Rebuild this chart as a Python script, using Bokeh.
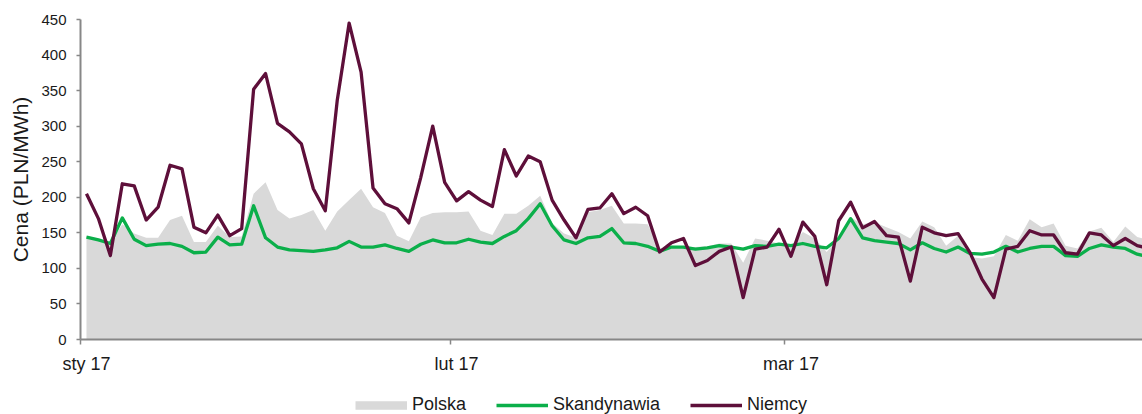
import pandas as pd
from bokeh.plotting import figure
from bokeh.models import Range1d, FixedTicker, Legend, LegendItem
from bokeh.embed import file_html
from bokeh.resources import INLINE

# ---------------- data ----------------
dates = pd.date_range("2017-01-01", "2017-03-31", freq="D")

polska = [146, 141, 135, 162, 149, 143, 143, 168, 174, 137,
          137, 160, 144, 145, 205, 221, 182, 170, 175, 182,
          153, 180, 196, 212, 186, 178, 146, 138, 172, 178,
          179, 179, 180, 153, 147, 177, 177, 188, 202, 164,
          149, 143, 179, 182, 188, 163, 163, 162, 128, 132,
          129, 130, 131, 135, 135, 108, 142, 139, 135, 132,
          151, 142, 123, 144, 172, 162, 165, 158, 151, 142,
          166, 158, 132, 146, 116, 114, 117, 147, 139, 169,
          158, 163, 132, 128, 152, 157, 137, 159, 144, 140]

skandynawia = [144, 140, 135, 171, 141, 132, 134, 135, 131, 122,
               123, 144, 133, 134, 188, 143, 130, 126, 125, 124,
               126, 129, 138, 130, 130, 133, 128, 124, 134, 140,
               136, 136, 141, 137, 135, 145, 153, 170, 191, 160,
               140, 135, 143, 145, 156, 136, 135, 131, 124, 130,
               130, 127, 129, 132, 130, 127, 132, 131, 134, 132,
               135, 131, 129, 142, 170, 143, 139, 137, 135, 126,
               136, 128, 123, 130, 121, 120, 123, 131, 123, 128,
               131, 131, 118, 117, 128, 133, 130, 128, 120, 116]

niemcy = [205, 170, 118, 219, 216, 168, 186, 245, 240, 158,
          150, 175, 146, 156, 352, 374, 304, 292, 275, 212,
          181, 336, 445, 376, 213, 191, 184, 164, 228, 300,
          221, 195, 208, 196, 187, 267, 230, 258, 250, 196,
          168, 143, 183, 185, 205, 177, 186, 174, 123, 136,
          142, 104, 111, 124, 130, 59, 127, 130, 155, 117,
          165, 145, 77, 167, 193, 157, 166, 146, 144, 82,
          158, 150, 146, 149, 122, 85, 59, 127, 131, 153,
          147, 147, 122, 120, 150, 147, 132, 142, 132, 128]

month_labels = ["sty 17", "lut 17", "mar 17"]
y_ticks = [0, 50, 100, 150, 200, 250, 300, 350, 400, 450]
series_names = ["Polska", "Skandynawia", "Niemcy"]

# ---------------- derived ----------------
day = [(d - dates[0]).days for d in dates]
month_start_idx = [i for i, d in enumerate(dates) if d.day == 1]

FONT = "Liberation Sans"
AXIS_GRAY = "#878787"
TEXT = "#1a1a1a"
GRAY_FILL = "#D9D9D9"
GREEN = "#0BAF4A"
MAROON = "#5E0F3A"

# page geometry (pixels): the frame covers the whole figure, axes are pinned
W, H = 1142, 414
AXIS_X = 80          # pixel column of the y axis (start of 1 Jan)
TOP_Y = 19           # pixel row of value 450
ZERO_Y = 339         # pixel row of value 0
px_per_day = 11.94
px_per_unit = (ZERO_Y - TOP_Y) / 450.0

x_start = -0.5 - AXIS_X / px_per_day
x_end = -0.5 + (W - AXIS_X) / px_per_day
y_start = -(H - ZERO_Y) / px_per_unit
y_end = 450 + TOP_Y / px_per_unit

p = figure(width=W, height=H, output_backend="svg", toolbar_location=None,
           x_range=Range1d(x_start, x_end), y_range=Range1d(y_start, y_end),
           min_border=0, min_border_left=0, min_border_right=0,
           min_border_top=0, min_border_bottom=0)
p.title.visible = False
p.grid.visible = False
p.outline_line_color = None
p.background_fill_color = "white"
p.border_fill_color = "white"

# area + lines
p.varea(x=day, y1=0, y2=polska, fill_color=GRAY_FILL)
r_sk = p.line(day, skandynawia, line_color=GREEN, line_width=3.3, line_join="round")
r_ni = p.line(day, niemcy, line_color=MAROON, line_width=3.3, line_join="round")
proxy = p.line(day, polska, line_color=GRAY_FILL, line_width=8.5, visible=False)

# x axis (pinned at value 0)
xa = p.xaxis[0]
xa.fixed_location = 0
xa.bounds = (-0.5, x_end)
xa.ticker = FixedTicker(ticks=month_start_idx,
                        minor_ticks=[i - 0.5 for i in month_start_idx])
xa.major_label_overrides = {i: lab for i, lab in zip(month_start_idx, month_labels)}
xa.major_tick_line_color = None
xa.major_tick_out = 0
xa.major_tick_in = 0
xa.minor_tick_out = 5
xa.minor_tick_in = 0
xa.minor_tick_line_color = AXIS_GRAY
xa.minor_tick_line_width = 1.5
xa.axis_line_color = AXIS_GRAY
xa.axis_line_width = 2
xa.major_label_standoff = 9
xa.major_label_text_font = FONT
xa.major_label_text_font_size = "18px"
xa.major_label_text_color = TEXT

# y axis (pinned at the start of 1 Jan)
ya = p.yaxis[0]
ya.fixed_location = -0.5
ya.bounds = (0, 450)
ya.ticker = FixedTicker(ticks=y_ticks)
ya.major_tick_out = 4
ya.major_tick_in = 0
ya.major_tick_line_color = AXIS_GRAY
ya.major_tick_line_width = 1.5
ya.minor_tick_line_color = None
ya.axis_line_color = AXIS_GRAY
ya.axis_line_width = 2
ya.major_label_standoff = 10
ya.major_label_text_font = FONT
ya.major_label_text_font_size = "15px"
ya.major_label_text_color = TEXT
ya.axis_label = "Cena (PLN/MWh)"
ya.axis_label_text_font = FONT
ya.axis_label_text_font_size = "21px"
ya.axis_label_text_font_style = "normal"
ya.axis_label_text_color = TEXT
ya.axis_label_standoff = 6

legend = Legend(
    items=[LegendItem(label=series_names[0], renderers=[proxy]),
           LegendItem(label=series_names[1], renderers=[r_sk]),
           LegendItem(label=series_names[2], renderers=[r_ni])],
    orientation="horizontal", location=(355, -1),
    glyph_width=52, glyph_height=20, label_standoff=5, spacing=30,
    padding=0, margin=0, border_line_color=None, background_fill_alpha=0,
    label_text_font=FONT, label_text_font_size="18px", label_text_color=TEXT,
)
p.add_layout(legend)

open("out.html", "w").write(file_html(p, INLINE))
